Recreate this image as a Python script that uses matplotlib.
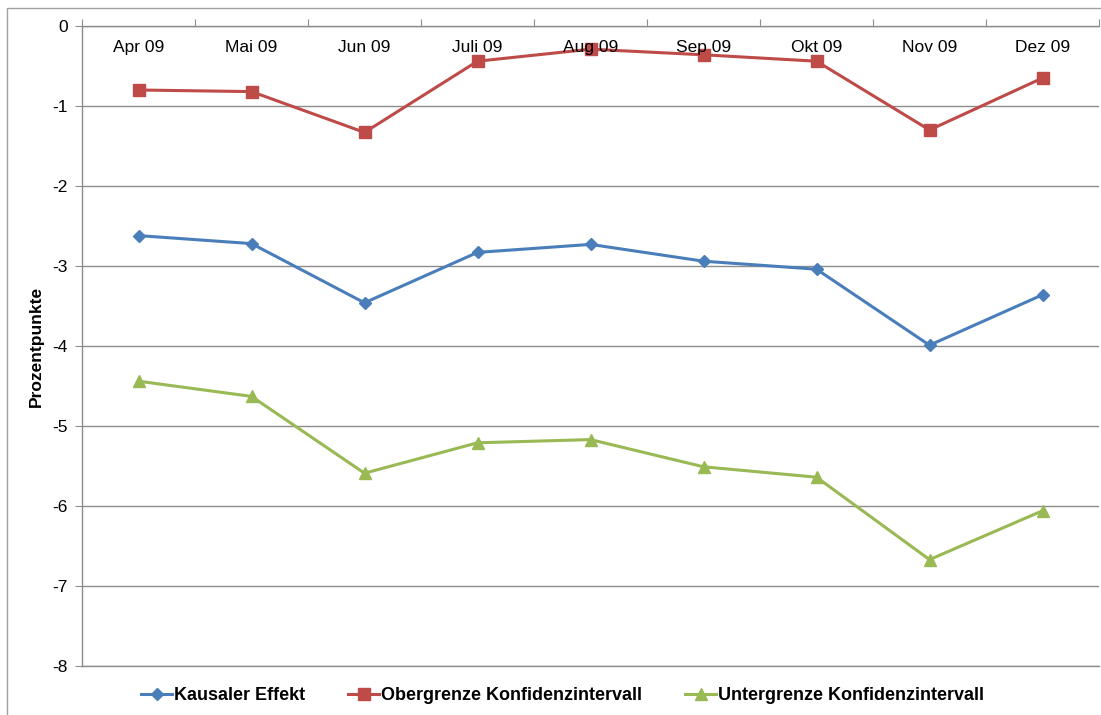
import numpy as np
import matplotlib.pyplot as plt

plt.rcParams['font.family'] = ['Liberation Sans', 'DejaVu Sans']

months = ["Apr 09", "Mai 09", "Jun 09", "Juli 09", "Aug 09", "Sep 09", "Okt 09", "Nov 09", "Dez 09"]
kausal = [-2.62, -2.72, -3.46, -2.83, -2.73, -2.94, -3.04, -3.99, -3.36]
obergrenze = [-0.80, -0.82, -1.33, -0.44, -0.29, -0.36, -0.44, -1.30, -0.65]
untergrenze = [-4.44, -4.63, -5.59, -5.21, -5.17, -5.51, -5.64, -6.67, -6.06]

c_blue = '#4a7ebb'
c_red = '#be4b48'
c_green = '#98b954'
c_grid = '#8c8c8c'

fig = plt.figure(figsize=(11.01, 7.15), dpi=100)
ax = fig.add_axes([82 / 1101, 49 / 715, 1017 / 1101, 640 / 715])

x = np.arange(len(months))
ax.plot(x, kausal, color=c_blue, lw=2.2, marker='D', ms=6.5, label='Kausaler Effekt', zorder=3)
ax.plot(x, obergrenze, color=c_red, lw=2.2, marker='s', ms=8.5, label='Obergrenze Konfidenzintervall', zorder=3)
ax.plot(x, untergrenze, color=c_green, lw=2.2, marker='^', ms=8.5, label='Untergrenze Konfidenzintervall', zorder=3)

ax.set_xlim(-0.5, len(months) - 0.5)
ax.set_ylim(-8, 0)
ax.set_yticks(np.arange(-8, 1, 1))
ax.set_yticklabels([str(v) for v in range(-8, 1)])
ax.yaxis.grid(True, color=c_grid, lw=1)
ax.set_axisbelow(True)

# category axis sits at y=0 (top); labels drawn inside, above the lines
ax.xaxis.set_ticks_position('top')
ax.set_xticks(np.arange(-0.5, len(months), 1))
ax.tick_params(axis='x', length=5, color=c_grid, direction='out', labeltop=False, labelbottom=False)
for i, m in enumerate(months):
    ax.text(i, -0.265, m, ha='center', va='center', fontsize=12.5, zorder=5)
ax.tick_params(axis='y', length=5, color=c_grid, labelsize=12.5, pad=5)

ax.spines['right'].set_visible(False)
for s in ['left', 'top', 'bottom']:
    ax.spines[s].set_color(c_grid)
    ax.spines[s].set_linewidth(1)

ax.set_ylabel('Prozentpunkte', fontsize=12.5, fontweight='bold', labelpad=6)

fig.legend(loc='center', bbox_to_anchor=(0.511, 19 / 715), ncol=3, frameon=False,
           prop={'weight': 'bold', 'size': 13}, handlelength=1.7, handletextpad=0.1,
           columnspacing=2.4)

# outer chart frame
fig.add_artist(plt.Rectangle((7 / 1101, -0.1), 1.2, (715 - 8) / 715 + 0.1, transform=fig.transFigure,
                             fill=False, edgecolor='#a0a0a0', lw=1))

fig.savefig('out.png', dpi=100)
